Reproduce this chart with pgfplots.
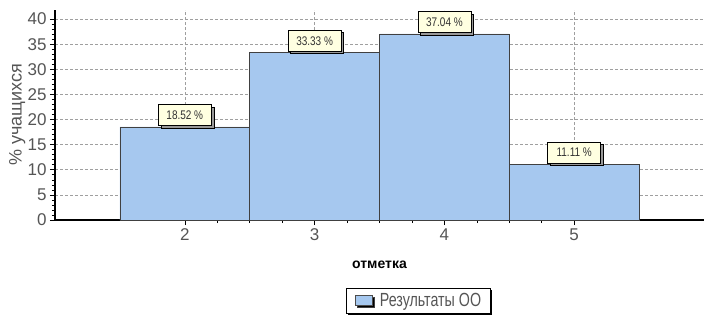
\documentclass[border=0pt]{standalone}
\usepackage{fontspec}
\setmainfont{Liberation Sans}
\newfontfamily\narrowfont[FakeStretch=0.75]{Liberation Sans}
\newfontfamily\lblfont[FakeStretch=0.8]{Liberation Sans}
\usepackage{pgfplots}
\pgfplotsset{compat=1.18}
\usetikzlibrary{shadows}
\definecolor{barblue}{HTML}{A6C8EF}
\definecolor{tipfill}{HTML}{FFFFE1}
\definecolor{txtgray}{HTML}{555555}
\begin{document}
\begin{tikzpicture}
\begin{axis}[
 scale only axis, width=649pt, height=210pt,
 xmin=1, xmax=6, ymin=0, ymax=41.8,
 axis x line=bottom, axis y line=left,
 axis line style={line width=1.6pt,-},
 xtick={2,3,4,5}, ytick={0,5,...,40},
 minor x tick num=3, minor y tick num=4,
 tick align=outside,
 major tick length=5pt, minor tick length=3pt,
 tick style={black, line width=0.6pt},
 grid=major, major grid style={dash pattern=on 3pt off 2pt, gray!75, line width=0.6pt},
 ticklabel style={font=\fontsize{17}{18}\selectfont, text=txtgray},
 /pgf/number format/assume math mode=true,
 xlabel={отметка},
 xlabel style={font=\bfseries\fontsize{14}{15}\selectfont, at={(axis description cs:0.5,0)}, anchor=center, yshift=-45pt},
 ylabel={\% учащихся},
 ylabel style={font=\fontsize{18}{19}\selectfont, text=txtgray, at={(axis description cs:-0.058,0.5)}, anchor=center},
 ybar, bar width=1,
 legend style={at={(axis description cs:0.5595,-0.324)}, anchor=north, draw=black, line width=0.6pt,
   font=\narrowfont\fontsize{19}{20}\selectfont, text=txtgray,
   drop shadow={shadow xshift=2pt, shadow yshift=-2pt, fill=black, opacity=1},
   inner xsep=7pt, inner ysep=3pt},
 legend image code/.code={\path (0pt,0pt) (24pt,0pt); \draw[fill=barblue, draw=black!70, line width=0.6pt] (2pt,-5pt) rectangle (19pt,5pt);},
 point meta=explicit symbolic,
 nodes near coords={\pgfplotspointmeta~\%},
 every node near coord/.append style={font=\lblfont\fontsize{12.5}{13}\selectfont, text=black!80,
   fill=tipfill, draw=black, line width=0.6pt,
   drop shadow={shadow xshift=2.5pt, shadow yshift=-2.5pt, fill=gray!80, opacity=1},
   minimum width=53pt, minimum height=21pt, inner sep=1pt, anchor=south, yshift=1pt},
]
\addplot[fill=barblue, draw=black!75, line width=0.8pt] coordinates {(2,18.52) [18.52] (3,33.33) [33.33] (4,37.04) [37.04] (5,11.11) [11.11]};
\addlegendentry{Результаты ОО\hspace{10pt}}
\end{axis}
\pgfresetboundingbox
\path[use as bounding box] (current axis.south west) ++(-55pt,-97pt) rectangle ([yshift=10pt]current axis.north east);
\end{tikzpicture}
\end{document}
